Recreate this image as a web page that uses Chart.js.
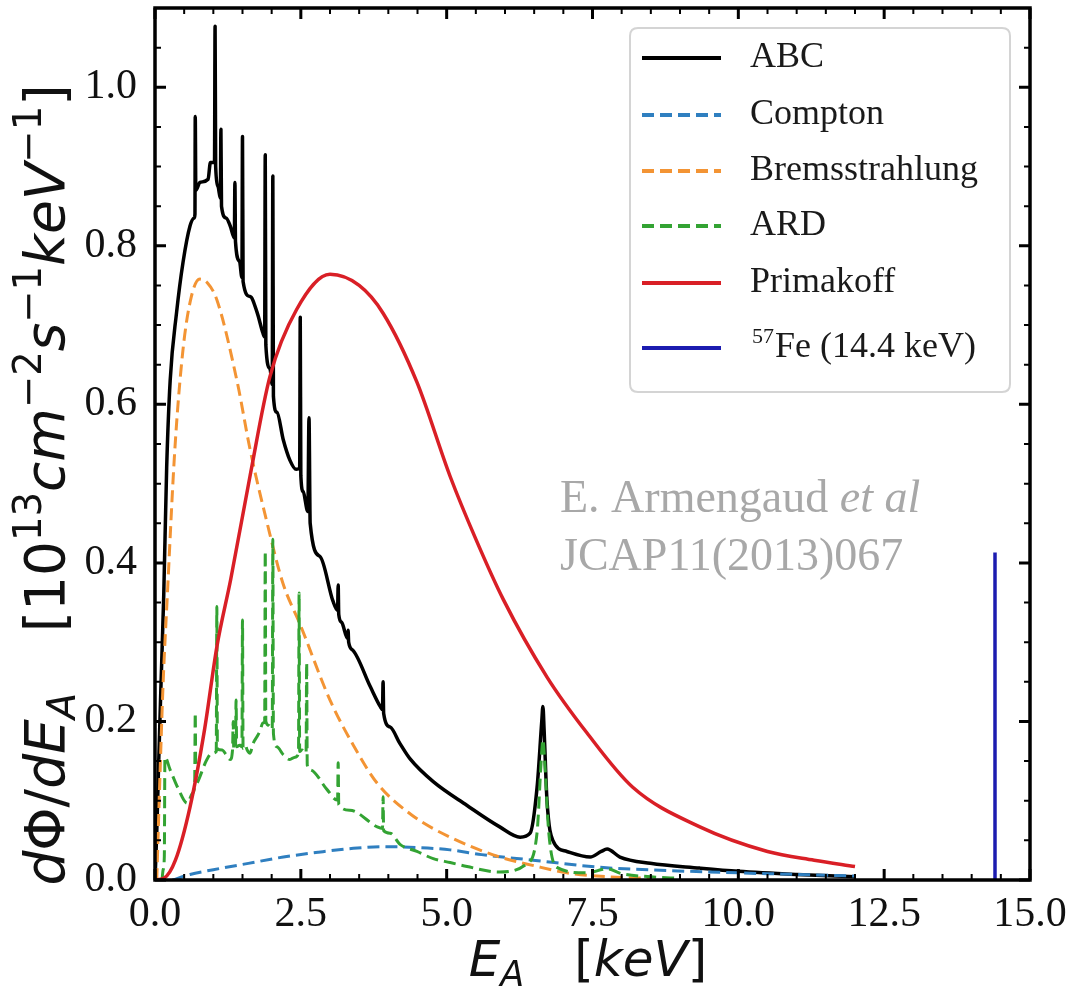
<!DOCTYPE html>
<html><head><meta charset="utf-8">
<style>html,body{margin:0;padding:0;background:#fff;}#wrap{width:1072px;height:992px;}</style>
<script src="https://cdn.jsdelivr.net/npm/chart.js@4/dist/chart.umd.min.js"></script>
</head><body><div id="wrap"><canvas id="c" width="1072" height="992"></canvas></div>
<script>
// ---- data (energy in keV, flux in 1e13 /cm2/s/keV) ----
const abcE = [0.00,0.03,0.06,0.10,0.15,0.20,0.26,0.37,0.48,0.60,0.67,0.685,0.69,0.70,0.77,0.91,0.95,1.02,1.03,1.04,1.08,1.12,1.13,1.14,1.22,1.29,1.36,1.37,1.38,1.45,1.49,1.50,1.51,1.63,1.75,1.85,1.88,1.89,1.90,1.97,2.01,2.02,2.03,2.09,2.20,2.31,2.42,2.48,2.49,2.50,2.54,2.62,2.64,2.66,2.83,3.05,3.13,3.14,3.15,3.20,3.30,3.31,3.32,3.39,3.69,3.86,3.90,3.91,3.92,4.03,4.20,4.37,4.77,5.35,5.91,6.26,6.43,6.55,6.63,6.65,6.67,6.72,6.82,7.06,7.46,7.65,7.75,7.97,8.49,9.34,10.0,11.0,12.0];
const abcY = [0.00,0.06,0.14,0.24,0.36,0.52,0.63,0.716,0.779,0.825,0.835,0.84,0.963,0.87,0.88,0.884,0.905,0.905,1.077,0.90,0.875,0.86,0.947,0.85,0.835,0.825,0.81,0.88,0.805,0.78,0.76,0.938,0.755,0.736,0.716,0.69,0.685,0.915,0.675,0.645,0.625,0.888,0.61,0.59,0.555,0.53,0.518,0.52,0.71,0.51,0.49,0.465,0.583,0.45,0.408,0.352,0.34,0.372,0.335,0.325,0.305,0.315,0.30,0.29,0.244,0.219,0.215,0.25,0.21,0.193,0.172,0.153,0.124,0.094,0.067,0.054,0.059,0.117,0.20,0.219,0.19,0.10,0.05,0.036,0.029,0.036,0.039,0.029,0.021,0.015,0.011,0.007,0.004];

const comptonE = [0.3,0.6,1.0,1.6,2.2,2.8,3.4,3.9,4.5,5.06,5.6,6.48,7.63,8.78,10.0,11.0,12.0];
const comptonY = [0.0,0.007,0.013,0.021,0.029,0.035,0.040,0.042,0.041,0.038,0.032,0.025,0.016,0.012,0.009,0.007,0.005];

const bremE = [0.03,0.08,0.14,0.21,0.34,0.48,0.62,0.77,0.90,1.06,1.41,1.63,1.92,2.19,2.49,3.0,3.4,3.81,4.4,5.06,5.91,6.5,7.06,7.8,8.5];
const bremY = [0.0,0.12,0.25,0.357,0.543,0.669,0.735,0.758,0.753,0.732,0.628,0.543,0.451,0.375,0.322,0.227,0.17,0.122,0.082,0.054,0.029,0.018,0.009,0.004,0.002];

const ardE = [0.12,0.14,0.16,0.17,0.26,0.40,0.55,0.65,0.68,0.69,0.70,0.72,0.89,0.98,1.05,1.06,1.07,1.15,1.22,1.29,1.33,1.34,1.35,1.38,1.39,1.40,1.45,1.49,1.50,1.51,1.55,1.58,1.63,1.68,1.75,1.80,1.85,1.88,1.89,1.90,1.95,2.01,2.02,2.03,2.09,2.20,2.31,2.40,2.46,2.47,2.48,2.52,2.59,2.60,2.61,2.66,2.95,3.12,3.13,3.14,3.15,3.34,3.81,3.90,3.91,3.92,4.03,4.20,4.49,4.77,5.06,5.35,5.91,6.38,6.55,6.62,6.65,6.68,6.75,6.89,7.40,7.75,8.0,8.5,9.0];
const ardY = [0.0,0.013,0.03,0.155,0.139,0.115,0.097,0.11,0.12,0.211,0.12,0.122,0.152,0.16,0.162,0.345,0.165,0.164,0.158,0.152,0.165,0.20,0.165,0.168,0.227,0.168,0.17,0.168,0.328,0.166,0.17,0.164,0.16,0.172,0.181,0.188,0.198,0.20,0.415,0.20,0.195,0.19,0.43,0.185,0.168,0.158,0.152,0.155,0.16,0.362,0.162,0.164,0.16,0.274,0.145,0.139,0.114,0.101,0.101,0.148,0.095,0.088,0.067,0.065,0.105,0.062,0.059,0.045,0.036,0.027,0.022,0.017,0.010,0.021,0.06,0.15,0.177,0.15,0.06,0.016,0.009,0.014,0.008,0.004,0.002];

const primE = [0.0,0.15,0.35,0.6,0.85,1.06,1.3,1.63,1.97,2.43,3.0,3.5,3.91,4.49,5.06,5.5,5.97,6.72,7.4,8.19,9.34,10.5,11.3,12.0];
const primY = [0.0,0.002,0.025,0.092,0.19,0.294,0.38,0.51,0.635,0.72,0.764,0.75,0.715,0.628,0.509,0.43,0.354,0.256,0.186,0.117,0.067,0.036,0.025,0.017];

const feE = [14.4,14.4];
const feY = [0.0,0.413];

const seriesLabels = ['ABC','Compton','Bremsstrahlung','ARD','Primakoff','Fe (14.4 keV)'];
const xTickVals = [0,2.5,5,7.5,10,12.5,15];
const yTickVals = [0,0.2,0.4,0.6,0.8,1.0];
const xMinorStep = 0.5, yMinorStep = 0.05;

function pts(E,Y){return E.map((e,i)=>({x:e,y:Y[i]}));}

const dash = [12,6];
const datasets = [
 {label:seriesLabels[0], data:pts(abcE,abcY), borderColor:'#000000', borderWidth:3.5, order:5},
 {label:seriesLabels[1], data:pts(comptonE,comptonY), borderColor:'#2f7fc0', borderWidth:3, borderDash:dash, order:4},
 {label:seriesLabels[2], data:pts(bremE,bremY), borderColor:'#f39434', borderWidth:3, borderDash:dash, order:3},
 {label:seriesLabels[3], data:pts(ardE,ardY), borderColor:'#33a333', borderWidth:3, borderDash:dash, order:2},
 {label:seriesLabels[4], data:pts(primE,primY), borderColor:'#d91f26', borderWidth:3.5, order:1},
 {label:seriesLabels[5], data:pts(feE,feY), borderColor:'#1c1cb0', borderWidth:3.5, order:0}
];
datasets.forEach(d=>{d.pointRadius=0; d.fill=false; d.borderJoinStyle='round'; d.borderCapStyle='butt'; d.cubicInterpolationMode='monotone';});

function fontOf(p, fs){
  const s = (p.sup||p.sub)?fs*0.7:fs;
  return (p.i?'italic ':'')+s+'px '+(p.fam||'"DejaVu Sans"');
}
function richWidth(ctx, parts, fs){
  let w=0; parts.forEach(p=>{ctx.font=fontOf(p,fs); w+=p.gap?p.gap*fs:ctx.measureText(p.t).width;}); return w;
}
function drawRich(ctx, parts, x, y, fs){
  let cx=x;
  parts.forEach(p=>{
    if(p.gap){cx+=p.gap*fs;return;}
    ctx.font=fontOf(p,fs);
    const dy = p.sup?-0.42*fs:(p.sub?0.2*fs:0);
    ctx.fillText(p.t,cx,y+dy);
    cx+=ctx.measureText(p.t).width;
  });
}

const yTitle = [
 {t:'d',i:1},{t:'\u03A6'},{t:'/'},{t:'d',i:1},{t:'E',i:1},{t:'A',i:1,sub:1},{gap:1.1},
 {t:'[10'},{t:'13',sup:1},{t:'cm',i:1},{t:'\u22122',sup:1},{t:'s',i:1},{t:'\u22121',sup:1},{t:'keV',i:1},{t:'\u22121',sup:1},{t:']'}
];
const xTitle = [{t:'E',i:1},{t:'A',i:1,sub:1},{gap:1.0},{t:'['},{t:'keV',i:1},{t:']'}];

const decor = {
 id:'decor',
 afterDatasetsDraw(chart){
  const {ctx, chartArea:a, scales:{x,y}} = chart;
  ctx.save();
  ctx.strokeStyle='#000';
  for(let i=0;i<=30;i++){
    const v=i*xMinorStep, px=x.getPixelForValue(v);
    const major = xTickVals.some(t=>Math.abs(t-v)<1e-6);
    const L = major?11:6; ctx.lineWidth = major?3:2;
    ctx.beginPath(); ctx.moveTo(px,a.bottom); ctx.lineTo(px,a.bottom-L);
    ctx.moveTo(px,a.top); ctx.lineTo(px,a.top+L); ctx.stroke();
  }
  for(let i=0;i<=22;i++){
    const v=i*yMinorStep, py=y.getPixelForValue(v);
    if(py<a.top) continue;
    const major = yTickVals.some(t=>Math.abs(t-v)<1e-6);
    const L = major?11:6; ctx.lineWidth = major?3:2;
    ctx.beginPath(); ctx.moveTo(a.left,py); ctx.lineTo(a.left+L,py);
    ctx.moveTo(a.right,py); ctx.lineTo(a.right-L,py); ctx.stroke();
  }
  ctx.lineWidth=3.5;
  ctx.strokeRect(a.left,a.top,a.right-a.left,a.bottom-a.top);

  // legend
  const lx0=630, ly0=28, lx1=1010, ly1=392, r=8;
  ctx.beginPath();
  ctx.moveTo(lx0+r,ly0); ctx.lineTo(lx1-r,ly0); ctx.quadraticCurveTo(lx1,ly0,lx1,ly0+r);
  ctx.lineTo(lx1,ly1-r); ctx.quadraticCurveTo(lx1,ly1,lx1-r,ly1);
  ctx.lineTo(lx0+r,ly1); ctx.quadraticCurveTo(lx0,ly1,lx0,ly1-r);
  ctx.lineTo(lx0,ly0+r); ctx.quadraticCurveTo(lx0,ly0,lx0+r,ly0); ctx.closePath();
  ctx.fillStyle='rgba(255,255,255,0.85)'; ctx.fill();
  ctx.strokeStyle='#d4d4d4'; ctx.lineWidth=2; ctx.stroke();
  const rows=[58,115,171,226,283,348];
  chart.data.datasets.forEach((d,i)=>{
    const ry=rows[i];
    ctx.strokeStyle=d.borderColor; ctx.lineWidth=4;
    ctx.setLineDash(d.borderDash||[]);
    ctx.beginPath(); ctx.moveTo(642,ry); ctx.lineTo(721,ry); ctx.stroke();
    ctx.setLineDash([]);
    ctx.fillStyle='#1a1a1a'; ctx.textBaseline='middle'; ctx.textAlign='left';
    if(i===5){
      ctx.font='22px "Liberation Serif"'; ctx.fillText('57',752,ry-11);
      const w=ctx.measureText('57').width;
      ctx.font='36px "Liberation Serif"'; ctx.fillText(d.label,752+w+1,ry);
    } else {
      ctx.font='36px "Liberation Serif"'; ctx.fillText(d.label,750,ry);
    }
  });

  // citation
  ctx.fillStyle='#a8a8a8'; ctx.textBaseline='alphabetic';
  ctx.font='46px "Liberation Serif"'; ctx.fillText('E. Armengaud ',560,512);
  const w1=ctx.measureText('E. Armengaud ').width;
  ctx.font='italic 46px "Liberation Serif"'; ctx.fillText('et al',560+w1,512);
  ctx.font='46px "Liberation Serif"'; ctx.fillText('JCAP11(2013)067',560,570);

  // axis titles
  ctx.fillStyle='#111';
  const fx=50;
  const wx=richWidth(ctx,xTitle,fx);
  drawRich(ctx,xTitle,588-wx/2,976,fx);
  const fy=55;
  const wy=richWidth(ctx,yTitle,fy);
  ctx.translate(64,485); ctx.rotate(-Math.PI/2);
  drawRich(ctx,yTitle,-wy/2,0,fy);
  ctx.restore();
 }
};

new Chart(document.getElementById('c'),{
 type:'line',
 data:{datasets},
 options:{
  responsive:false, animation:false, devicePixelRatio:1,
  layout:{padding:{top:8,right:42,bottom:0,left:0}},
  plugins:{legend:{display:false},tooltip:{enabled:false}},
  scales:{
   x:{type:'linear',min:0,max:15,
      afterBuildTicks:s=>{s.ticks=xTickVals.map(v=>({value:v}));},
      afterFit:s=>{s.height=112;s.paddingLeft=0;s.paddingRight=0;},
      grid:{display:false}, border:{display:false},
      ticks:{autoSkip:false,maxRotation:0,padding:2,color:'#111',font:{family:'"Liberation Serif"',size:42},callback:v=>Number(v).toFixed(1)}},
   y:{type:'linear',min:0,max:1.1,
      afterBuildTicks:s=>{s.ticks=yTickVals.map(v=>({value:v}));},
      afterFit:s=>{s.width=155;s.paddingTop=0;s.paddingBottom=0;},
      grid:{display:false}, border:{display:false},
      ticks:{autoSkip:false,padding:10,color:'#111',font:{family:'"Liberation Serif"',size:42},callback:v=>Number(v).toFixed(1)}}
  }
 },
 plugins:[decor]
});
</script></body></html>
